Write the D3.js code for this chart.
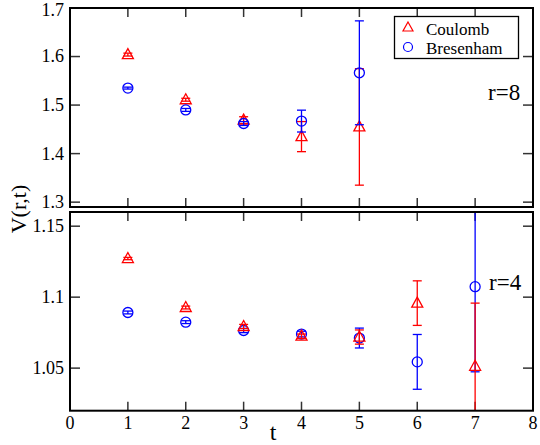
<!DOCTYPE html>
<html><head><meta charset="utf-8">
<script src="https://cdn.jsdelivr.net/npm/d3@7"></script>
<style>body{margin:0;background:#fff;font-family:"Liberation Serif"}</style>
</head><body>
<script>
const tValues = [1,2,3,4,5,6,7];
const seriesNames = ["Coulomb","Bresenham"];
// r=8 panel (top)
const r8Coulomb = [1.604,1.511,1.469,1.435,1.455];
const r8CoulombErr = [0.003,0.003,0.007,0.031,0.120];
const r8Bresenham = [1.535,1.490,1.462,1.467,1.5665];
const r8BresenhamErr = [0.002,0.003,0.004,0.0225,0.107];
// r=4 panel (bottom)
const r4Coulomb = [1.1272,1.0927,1.0793,1.0725,1.0719,1.0958,1.0513];
const r4CoulombErr = [0.0008,0.001,0.0015,0.0015,0.005,0.0157,0.0445];
const r4Bresenham = [1.0892,1.0824,1.0765,1.0740,1.0712,1.0544,1.1074];
const r4BresenhamErr = [0.001,0.001,0.0015,0.002,0.007,0.0193,0.060];
const xTicks = [0,1,2,3,4,5,6,7,8];
const topYTicks = [1.3,1.4,1.5,1.6,1.7];
const botYTicks = [1.05,1.1,1.15];

const W=540,H=445, L=70, R=533;
const svg = d3.select("body").append("svg").attr("width",W).attr("height",H);
const xs = d3.scaleLinear().domain([0,8]).range([L,R]);
const texts = [];
function txt(sel){ const t = sel.append("text"); texts.push(t); return t; }

const panels = [
  {top:8, bottom:207, domain:[1.29,1.7], ticks:topYTicks, fmt:d3.format(".1f"), label:"r=8", lx:488, ly:100,
   series:[{v:r8Coulomb,e:r8CoulombErr,c:"#ff0000",s:"tri"},{v:r8Bresenham,e:r8BresenhamErr,c:"#0000ff",s:"circ"}], showX:false},
  {top:212, bottom:410.7, domain:[1.02,1.16], ticks:botYTicks, fmt:d=>d===1.1?"1.1":d3.format(".2f")(d), label:"r=4", lx:489, ly:290,
   series:[{v:r4Bresenham,e:r4BresenhamErr,c:"#0000ff",s:"circ"},{v:r4Coulomb,e:r4CoulombErr,c:"#ff0000",s:"tri"}], showX:true}
];
const tickCol="#333";

panels.forEach((p)=>{
  const ys = d3.scaleLinear().domain(p.domain).range([p.bottom,p.top]);
  const yc = d3.scaleLinear().domain(p.domain).range([p.bottom,p.top]).clamp(true);
  const inDom = v => v>=p.domain[0] && v<=p.domain[1];
  const tg = svg.append("g").attr("stroke",tickCol).attr("stroke-width",1.5);
  p.ticks.forEach(v=>{
    tg.append("line").attr("x1",L).attr("x2",L+10).attr("y1",ys(v)).attr("y2",ys(v));
    tg.append("line").attr("x1",R-10).attr("x2",R).attr("y1",ys(v)).attr("y2",ys(v));
    txt(svg).attr("x",L-6).attr("y",ys(v)).attr("dy",v===1.7?"0.45em":"0.33em").attr("text-anchor","end").attr("font-size",18).text(p.fmt(v));
  });
  xTicks.slice(1,-1).forEach(v=>{
    tg.append("line").attr("x1",xs(v)).attr("x2",xs(v)).attr("y1",p.top).attr("y2",p.top+9);
    tg.append("line").attr("x1",xs(v)).attr("x2",xs(v)).attr("y1",p.bottom-9).attr("y2",p.bottom);
  });
  if(p.showX){
    xTicks.forEach(v=>{
      txt(svg).attr("x",xs(v)).attr("y",p.bottom+18.5).attr("text-anchor","middle").attr("font-size",18).text(d3.format("d")(v));
    });
  }
  const dg = svg.append("g");
  p.series.forEach(s=>{
    const pts = s.v.map((v,i)=>({t:tValues[i],v,e:s.e[i]}));
    const sg = dg.append("g").attr("stroke",s.c).attr("fill","none").attr("stroke-width",1.3);
    pts.forEach(d=>{
      const cx=xs(d.t), hi=d.v+d.e, lo=d.v-d.e;
      sg.append("line").attr("x1",cx).attr("x2",cx).attr("y1",yc(hi)).attr("y2",yc(lo));
      if(inDom(hi)) sg.append("line").attr("x1",cx-4.5).attr("x2",cx+4.5).attr("y1",ys(hi)).attr("y2",ys(hi));
      if(inDom(lo)) sg.append("line").attr("x1",cx-4.5).attr("x2",cx+4.5).attr("y1",ys(lo)).attr("y2",ys(lo));
      if(s.s==="circ"){
        sg.append("circle").attr("cx",cx).attr("cy",ys(d.v)).attr("r",5);
      } else {
        const cy=ys(d.v);
        sg.append("path").attr("d",`M${cx},${cy-6}L${cx+5.5},${cy+4}L${cx-5.5},${cy+4}Z`);
      }
    });
  });
  svg.append("rect").attr("x",L).attr("y",p.top).attr("width",R-L).attr("height",p.bottom-p.top)
    .attr("fill","none").attr("stroke","#000").attr("stroke-width",2);
  txt(svg).attr("x",p.lx).attr("y",p.ly).attr("font-size",23).text(p.label);
});

const lg = svg.append("g");
lg.append("rect").attr("x",394.5).attr("y",16.5).attr("width",124).attr("height",42).attr("fill","#fff").attr("stroke","#000").attr("stroke-width",1.3);
lg.append("path").attr("d","M408,22L413,31L403,31Z").attr("fill","none").attr("stroke","#ff0000").attr("stroke-width",1.2);
lg.append("circle").attr("cx",408).attr("cy",47).attr("r",4.5).attr("fill","none").attr("stroke","#0000ff").attr("stroke-width",1.2);
txt(lg).attr("x",426).attr("y",35).attr("font-size",17).text(seriesNames[0]);
txt(lg).attr("x",426).attr("y",54).attr("font-size",17).text(seriesNames[1]);

txt(svg).attr("x",273).attr("y",440).attr("text-anchor","middle").attr("font-size",24).text("t");
txt(svg).attr("transform","translate(26,209) rotate(-90)").attr("text-anchor","middle").attr("font-size",22).text("V(r,t)");

texts.forEach(t=>t.style("font-family",'"Liberation Serif"'));
</script>
</body></html>
